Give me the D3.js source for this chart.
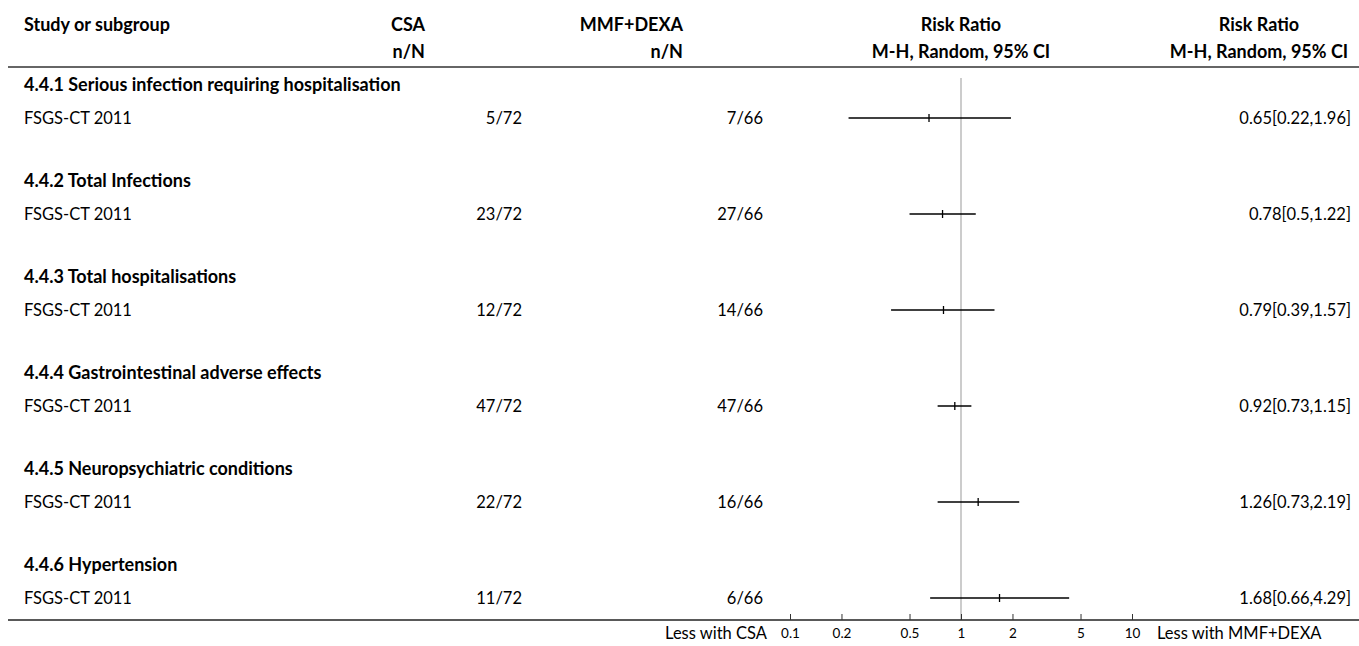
<!DOCTYPE html>
<html>
<head>
<meta charset="utf-8">
<script src="https://cdn.jsdelivr.net/npm/d3@7"></script>
<style>
  body { margin: 0; background: #fff; }
  svg text { font-family: "Lato", "Noto Sans", sans-serif; fill: #000; }
  .hdr { font-weight: bold; font-size: 18px; }
  .grp { font-weight: bold; font-size: 18px; }
  .cell { font-size: 16.5px; }
  .tick text { font-size: 13.5px; }
</style>
</head>
<body>
<svg width="1359" height="646"></svg>
<script>
// Data
let groups = [
  "4.4.1 Serious infection requiring hospitalisation",
  "4.4.2 Total Infections",
  "4.4.3 Total hospitalisations",
  "4.4.4 Gastrointestinal adverse effects",
  "4.4.5 Neuropsychiatric conditions",
  "4.4.6 Hypertension"
];
let studies = ["FSGS-CT 2011", "FSGS-CT 2011", "FSGS-CT 2011", "FSGS-CT 2011", "FSGS-CT 2011", "FSGS-CT 2011"];
let csa = ["5/72", "23/72", "12/72", "47/72", "22/72", "11/72"];
let mmf = ["7/66", "27/66", "14/66", "47/66", "16/66", "6/66"];
let rr = [0.65, 0.78, 0.79, 0.92, 1.26, 1.68];
let lo = [0.22, 0.5, 0.39, 0.73, 0.73, 0.66];
let hi = [1.96, 1.22, 1.57, 1.15, 2.19, 4.29];
let ciText = ["0.65[0.22,1.96]", "0.78[0.5,1.22]", "0.79[0.39,1.57]", "0.92[0.73,1.15]", "1.26[0.73,2.19]", "1.68[0.66,4.29]"];
let tickValues = [0.1, 0.2, 0.5, 1, 2, 5, 10];

let svg = d3.select("svg");
let width = +svg.attr("width");

// scales
let x = d3.scaleLog().domain([0.1, 10]).range([790, 1132]);
let rowY = d3.scaleLinear().domain([0, groups.length - 1]).range([118, 598]);
let axisY = 620;

// Header (two lines per column)
let header = [
  { t1: "Study or subgroup", t2: "", x: 24, anchor: "start" },
  { t1: "CSA", t2: "n/N", x: 425, anchor: "end" },
  { t1: "MMF+DEXA", t2: "n/N", x: 683, anchor: "end" },
  { t1: "Risk Ratio", t2: "M-H, Random, 95% CI", x: 961, anchor: "middle" },
  { t1: "Risk Ratio", t2: "M-H, Random, 95% CI", x: 1259, anchor: "middle" }
];
header.forEach(h => {
  svg.append("text").attr("class", "hdr").attr("x", h.x).attr("y", 31)
    .attr("text-anchor", h.anchor).text(h.t1);
  svg.append("text").attr("class", "hdr").attr("x", h.x).attr("y", 58)
    .attr("text-anchor", h.anchor).text(h.t2);
});

svg.append("line")
  .attr("x1", 8).attr("x2", width).attr("y1", 67).attr("y2", 67)
  .attr("stroke", "#333").attr("stroke-width", 1.5);

// line of no effect
svg.append("line")
  .attr("x1", x(1)).attr("x2", x(1)).attr("y1", 78).attr("y2", axisY)
  .attr("stroke", "#999").attr("stroke-width", 1);

// rows
let rows = svg.append("g").selectAll("g")
  .data(groups)
  .enter().append("g");

rows.append("text").attr("class", "grp")
  .attr("x", 24).attr("y", (d, i) => rowY(i) - 27)
  .text(d => d);

rows.append("text").attr("class", "cell")
  .attr("x", 24).attr("y", (d, i) => rowY(i) + 6)
  .text((d, i) => studies[i]);

rows.append("text").attr("class", "cell")
  .attr("x", 522).attr("y", (d, i) => rowY(i) + 6)
  .attr("text-anchor", "end")
  .text((d, i) => csa[i]);

rows.append("text").attr("class", "cell")
  .attr("x", 763).attr("y", (d, i) => rowY(i) + 6)
  .attr("text-anchor", "end")
  .text((d, i) => mmf[i]);

rows.append("text").attr("class", "cell")
  .attr("x", 1351).attr("y", (d, i) => rowY(i) + 6)
  .attr("text-anchor", "end")
  .text((d, i) => ciText[i]);

// confidence intervals
rows.append("line")
  .attr("x1", (d, i) => x(lo[i])).attr("x2", (d, i) => x(hi[i]))
  .attr("y1", (d, i) => rowY(i)).attr("y2", (d, i) => rowY(i))
  .attr("stroke", "#000").attr("stroke-width", 1.3);

// point estimates
rows.append("line")
  .attr("x1", (d, i) => x(rr[i])).attr("x2", (d, i) => x(rr[i]))
  .attr("y1", (d, i) => rowY(i) - 4).attr("y2", (d, i) => rowY(i) + 4)
  .attr("stroke", "#000").attr("stroke-width", 1.3);

// bottom rule + axis
svg.append("line")
  .attr("x1", 8).attr("x2", width).attr("y1", axisY).attr("y2", axisY)
  .attr("stroke", "#222").attr("stroke-width", 1.5);

let axis = svg.append("g")
  .attr("transform", "translate(0," + axisY + ")")
  .call(d3.axisBottom(x).tickValues(tickValues).tickFormat(d3.format("")).tickSizeInner(-6).tickSizeOuter(0).tickPadding(8));
axis.select(".domain").remove();
axis.selectAll(".tick line").attr("stroke", "#333");
axis.selectAll(".tick text").attr("font-family", null);

svg.append("text").attr("class", "cell")
  .attr("x", 767).attr("y", 639).attr("text-anchor", "end")
  .text("Less with CSA");
svg.append("text").attr("class", "cell")
  .attr("x", 1157).attr("y", 639)
  .text("Less with MMF+DEXA");
</script>
</body>
</html>
